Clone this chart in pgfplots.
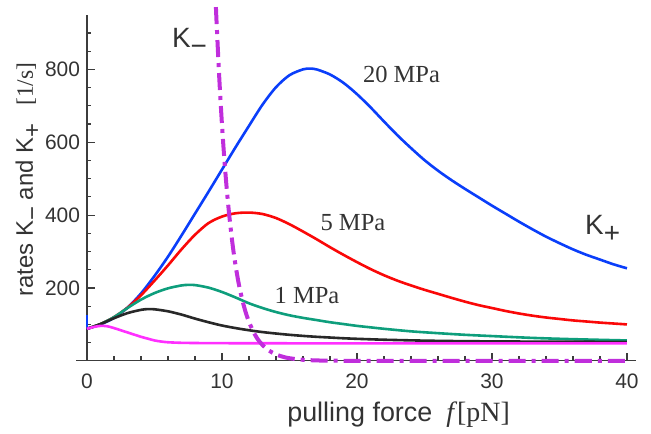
\documentclass[border=0pt]{standalone}
\usepackage{fontspec}
\setmainfont{Liberation Sans}
\newfontfamily\serif{Liberation Serif}
\usepackage{pgfplots}
\pgfplotsset{compat=1.18}
\definecolor{kblue}{RGB}{10,62,250}
\definecolor{kred}{RGB}{250,8,8}
\definecolor{kgreen}{RGB}{14,158,124}
\definecolor{kblack}{RGB}{40,40,40}
\definecolor{kmag}{RGB}{255,48,255}
\definecolor{kpurp}{RGB}{192,46,220}
\definecolor{txtgray}{RGB}{51,51,51}
\definecolor{axgray}{RGB}{60,60,60}
\newcommand\lsub[1]{\raisebox{-0.3em}{#1}}
\begin{document}
\begin{tikzpicture}
\begin{axis}[
  scale only axis, width=280bp, height=173bp,
  xmin=-0.8, xmax=40.7, ymin=0, ymax=950,
  axis lines=middle,
  axis line style={-, draw=axgray, line width=0.6bp},
  hide obscured x ticks=false,
  xtick={0,10,20,30,40}, minor xtick={2,4,...,38},
  ytick={200,400,600,800}, minor ytick={50,100,...,900},
  tick align=inside,
  major tick length=4bp, minor tick length=2.2bp,
  every tick/.style={axgray, line width=0.6bp},
  ticklabel style={font=\fontsize{10.5}{12}\selectfont, text=txtgray},
  xticklabel style={yshift=-3bp},
  /pgf/number format/assume math mode=true,
  clip=false,
  every axis plot/.append style={line width=1.3bp, smooth},
]
% 20 MPa
\addplot[kblue, sharp plot] coordinates {(0,125)(0,88)};
\addplot[kblue] coordinates {
(0,88)(1,100)(2,118)(3,146)(4,185)(5,233)(6,286)(7,344)(8,404)(9,464)(10,525)(11,586)(12,645)(13,703)(14,751)(15,784)(16,800)(16.5,802)(17,800)(18,786)(19,763)(20,732)(21,696)(22,657)(23,619)(24,584)(25,551)(26,522)(27,496)(28,472)(29,449)(30,426)(31,404)(32,382)(33,361)(34,341)(35,323)(36,306)(37,291)(38,278)(39,265)(40,254)};
% 5 MPa
\addplot[kred] coordinates {
(0,88)(1,101)(2,120)(3,146)(4,180)(5,220)(6,262)(7,306)(8,346)(9,378)(10,396)(11,405)(12,407)(13,403)(14,392)(15,375)(16,355)(17,334)(18,312)(19,291)(20,271)(21,252)(22,235)(23,220)(24,207)(25,195)(26,184)(27,173)(28,162.5)(29,153)(30,145)(31,137)(32,130)(33,124)(34,119)(35,115)(36,111)(37,108)(38,105)(39,102.5)(40,100)};
% 1 MPa
\addplot[kgreen] coordinates {
(0,88)(1,101)(2,120)(3,145)(4,168)(5,186)(6,199)(7,207)(7.5,208.5)(8,208)(9,201)(10,189)(11,174)(12,158)(13,145)(14,134)(15,125)(16,118)(17,112)(18,106)(19,101)(20,96)(21,92)(22,88)(24,81)(26,76)(28,71.5)(30,68)(33,63)(36,59.5)(40,56)};
% black
\addplot[kblack] coordinates {
(0,88)(1,101)(2,117)(3,131)(4,140)(4.5,142)(5,141.5)(6,136)(7,127)(8,116)(9,106)(10,97)(11,90)(12,84)(13,79)(14,75)(15,71.5)(16,68.5)(17,66)(18,64)(19,62)(20,60.5)(22,58)(25,55.5)(28,54)(32,53)(36,52.5)(40,52)};
% magenta
\addplot[kmag] coordinates {
(0,88)(0.5,93)(1,96)(1.5,95)(2,90)(2.5,84)(3,78)(3.5,72)(4,66)(4.5,61)(5,56)(5.5,53)(6,51)(7,49.5)(8,49)(10,48.5)(20,48)(40,48)};
% K minus
\addplot[kpurp, line width=2bp, dash pattern=on 8.5bp off 3bp on 2bp off 3bp] coordinates {
(9.55,971)(9.6,929)(9.8,776)(10,648)(10.2,541)(10.4,452)(10.6,378)(10.8,315)(11,263)(11.25,210)(11.5,168)(11.75,134)(12,107)(12.3,82)(12.6,62)(13,43.5)(13.5,27.8)(14,17.7)(14.5,11.3)(15,7.2)(16,2.9)(17,1.2)(18,0.5)(20,0.1)(25,0)(40,0)};

\node[font=\serif\fontsize{12.3}{14}\selectfont, text=txtgray] at (axis cs:23.3,785) {20 MPa};
\node[font=\serif\fontsize{12.3}{14}\selectfont, text=txtgray] at (axis cs:19.7,379) {5 MPa};
\node[font=\serif\fontsize{12.3}{14}\selectfont, text=txtgray] at (axis cs:16.3,178) {1 MPa};
\node[font=\fontsize{14}{16}\selectfont, text=txtgray] at (axis cs:38.2,362) {K\lsub{+}};
\node[font=\fontsize{14}{16}\selectfont, text=txtgray] at (axis cs:7.6,875) {K\lsub{−}};
\node[rotate=90, anchor=base west, inner sep=0pt, text=txtgray] at (axis cs:-4.0,175.6)
  {\fontsize{12}{14}\selectfont rates K\lsub{−} and K\lsub{+}\hspace{9bp}{\serif\fontsize{11.8}{14}\selectfont [1/s]}};
\node[anchor=base west, inner sep=0pt, text=txtgray] at (axis cs:14.81,-166.5)
  {\fontsize{13.5}{15}\selectfont pulling force\hspace{7bp}{\serif\fontsize{14}{16}\selectfont\itshape f}\hspace{1.5bp}{\serif\fontsize{14}{16}\selectfont [pN]}};
\coordinate (BL) at (axis cs:-6.444,-200.3);
\coordinate (TR) at (axis cs:41.78,990.4);
\end{axis}
\pgfresetboundingbox
\path[use as bounding box] (BL) rectangle (TR);
\end{tikzpicture}
\end{document}
